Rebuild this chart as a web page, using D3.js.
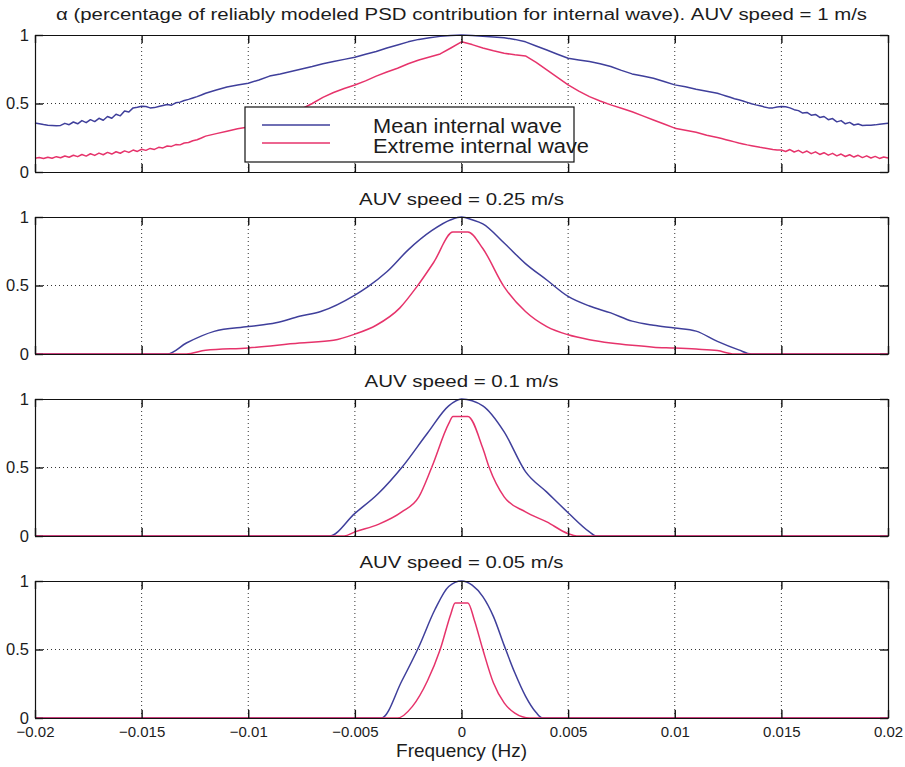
<!DOCTYPE html>
<html><head><meta charset="utf-8">
<script src="https://cdn.jsdelivr.net/npm/d3@7"></script>
<style>
body{margin:0;background:#fff}
svg{display:block}
text{font-family:"Liberation Sans",Arial,Helvetica,sans-serif;fill:#1c1c1c}
</style>
</head><body>
<svg id="chart" width="905" height="767"></svg>
<script>
// ---------- DATA ----------
const titles = [
  "\u03b1 (percentage of reliably modeled PSD contribution for internal wave). AUV speed = 1 m/s",
  "AUV speed = 0.25 m/s",
  "AUV speed = 0.1 m/s",
  "AUV speed = 0.05 m/s"
];
const seriesNames = ["Mean internal wave", "Extreme internal wave"];
const xTicks = [-0.02, -0.015, -0.01, -0.005, 0, 0.005, 0.01, 0.015, 0.02];
const xTickLabels = ["\u22120.02", "\u22120.015", "\u22120.01", "\u22120.005", "0", "0.005", "0.01", "0.015", "0.02"];
const yTicks = [0, 0.5, 1];
const yTickLabels = ["0", "0.5", "1"];
const xLabel = "Frequency (Hz)";

// AUV speed = 1 m/s
const freq1 = [
 -0.0200,-0.0198,-0.0196,-0.0194,-0.0192,-0.0190,-0.0188,-0.0186,-0.0184,-0.0182,
 -0.0180,-0.0178,-0.0176,-0.0174,-0.0172,-0.0170,-0.0168,-0.0166,-0.0164,-0.0162,
 -0.0160,-0.0158,-0.0156,-0.0154,-0.0152,-0.0150,-0.0148,-0.0146,-0.0144,-0.0142,
 -0.0140,-0.0138,-0.0136,-0.0134,-0.0132,-0.0130,-0.0128,-0.0126,-0.0124,-0.0122,-0.0120,
 -0.0115,-0.0110,-0.0105,-0.0100,-0.0095,-0.0090,-0.0085,-0.0080,-0.0075,-0.0070,
 -0.0065,-0.0060,-0.0055,-0.0050,-0.0045,-0.0040,-0.0035,-0.0030,-0.0025,-0.0020,
 -0.0015,-0.0010,-0.0005,0,0.0005,0.0010,0.0015,0.0020,0.0025,0.0030,
 0.0035,0.0040,0.0045,0.0050,0.0055,0.0060,0.0065,0.0070,0.0075,0.0080,
 0.0085,0.0090,0.0095,0.0100,0.0105,0.0110,0.0115,
 0.0120,0.0122,0.0124,0.0126,0.0128,0.0130,0.0132,0.0134,0.0136,0.0138,
 0.0140,0.0142,0.0144,0.0146,0.0148,0.0150,0.0152,0.0154,0.0156,0.0158,
 0.0160,0.0162,0.0164,0.0166,0.0168,0.0170,0.0172,0.0174,0.0176,0.0178,
 0.0180,0.0182,0.0184,0.0186,0.0188,0.0190,0.0192,0.0194,0.0196,0.0198,0.0200
];
const mean1 = [
 0.358,0.352,0.346,0.342,0.340,0.338,0.340,0.355,0.345,0.365,
 0.352,0.375,0.360,0.382,0.368,0.392,0.378,0.405,0.392,0.422,
 0.410,0.445,0.438,0.468,0.472,0.480,0.478,0.468,0.470,0.478,
 0.485,0.492,0.488,0.505,0.510,0.522,0.530,0.540,0.550,0.562,0.575,
 0.598,0.620,0.635,0.648,0.672,0.700,0.715,0.733,0.752,0.770,
 0.790,0.806,0.822,0.837,0.860,0.880,0.905,0.927,0.950,0.968,
 0.980,0.990,0.997,1.000,0.996,0.990,0.985,0.980,0.968,0.950,
 0.920,0.890,0.860,0.830,0.818,0.806,0.790,0.770,0.742,0.716,
 0.700,0.684,0.660,0.636,0.622,0.604,0.590,
 0.575,0.565,0.555,0.545,0.535,0.527,0.518,0.508,0.498,0.490,
 0.483,0.475,0.468,0.468,0.475,0.478,0.476,0.468,0.455,0.448,
 0.430,0.435,0.415,0.420,0.398,0.405,0.382,0.390,0.366,0.375,
 0.352,0.362,0.343,0.350,0.340,0.342,0.342,0.344,0.348,0.352,0.355
];
const extreme1 = [
 0.100,0.106,0.098,0.108,0.100,0.112,0.104,0.117,0.108,0.122,
 0.112,0.128,0.116,0.133,0.121,0.138,0.126,0.143,0.131,0.148,
 0.137,0.154,0.143,0.160,0.150,0.166,0.158,0.172,0.165,0.180,
 0.176,0.190,0.187,0.200,0.198,0.212,0.215,0.228,0.235,0.248,0.262,
 0.280,0.298,0.315,0.328,0.345,0.365,0.395,0.425,0.460,0.500,
 0.545,0.580,0.610,0.635,0.665,0.700,0.730,0.757,0.790,0.818,
 0.840,0.862,0.905,0.950,0.930,0.905,0.885,0.867,0.855,0.847,
 0.800,0.745,0.690,0.636,0.590,0.550,0.518,0.490,0.465,0.440,
 0.410,0.380,0.350,0.320,0.305,0.290,0.268,
 0.252,0.244,0.236,0.228,0.220,0.212,0.205,0.198,0.192,0.186,
 0.180,0.175,0.170,0.165,0.161,0.160,0.150,0.164,0.146,0.158,
 0.140,0.153,0.134,0.147,0.128,0.141,0.123,0.136,0.118,0.131,
 0.113,0.126,0.109,0.122,0.105,0.118,0.102,0.114,0.099,0.110,0.102
];

// AUV speed = 0.25 m/s
const freqMean025 = [-0.02,-0.0138,-0.0129,-0.0116,-0.010,-0.0087,-0.0076,-0.0066,-0.005,-0.0044,-0.0035,-0.0025,-0.0014,-0.0005,0,0.0005,0.001,0.002,0.003,0.004,0.005,0.006,0.007,0.008,0.009,0.010,0.011,0.012,0.013,0.0136,0.02];
const mean025 = [0,0,0.08,0.165,0.20,0.228,0.275,0.31,0.43,0.49,0.60,0.76,0.90,0.98,1.0,0.98,0.95,0.81,0.66,0.54,0.42,0.35,0.30,0.24,0.21,0.19,0.167,0.092,0.03,0,0];
const freqExt025 = [-0.02,-0.0129,-0.012,-0.010,-0.0076,-0.006,-0.005,-0.004,-0.0029,-0.0021,-0.0013,-0.0004,0.0003,0.001,0.002,0.003,0.004,0.005,0.006,0.007,0.008,0.009,0.010,0.011,0.012,0.0128,0.02];
const extreme025 = [0,0,0.027,0.044,0.08,0.10,0.145,0.21,0.335,0.49,0.67,0.89,0.89,0.77,0.49,0.31,0.20,0.14,0.104,0.08,0.063,0.05,0.044,0.036,0.025,0,0];

// AUV speed = 0.1 m/s
const freqMean01 = [-0.02,-0.0062,-0.005,-0.0039,-0.0028,-0.0016,-0.0006,0,0.001,0.002,0.003,0.004,0.005,0.006,0.0063,0.02];
const mean01 = [0,0,0.165,0.31,0.50,0.75,0.95,1.0,0.95,0.76,0.47,0.32,0.17,0.03,0,0];
const freqExt01 = [-0.02,-0.0055,-0.005,-0.0039,-0.0028,-0.002,-0.0014,-0.0006,-0.0004,0.0003,0.001,0.0013,0.002,0.003,0.004,0.005,0.0054,0.02];
const extreme01 = [0,0,0.03,0.085,0.176,0.286,0.50,0.82,0.873,0.873,0.64,0.50,0.286,0.176,0.103,0.017,0,0];

// AUV speed = 0.05 m/s
const freqMean005 = [-0.02,-0.00375,-0.0028,-0.002,-0.00125,-0.0006,0,0.0005,0.001,0.0015,0.002,0.0025,0.003,0.0035,0.0038,0.02];
const mean005 = [0,0,0.27,0.52,0.79,0.96,1.0,0.97,0.886,0.74,0.53,0.33,0.16,0.04,0,0];
const freqExt005 = [-0.02,-0.003,-0.0023,-0.0016,-0.001,-0.0005,-0.0003,0.0003,0.0006,0.001,0.0015,0.002,0.0025,0.0032,0.02];
const extreme005 = [0,0,0.085,0.27,0.50,0.76,0.84,0.84,0.716,0.50,0.255,0.11,0.036,0,0];

// ---------- LAYOUT ----------
const W = 905, H = 767;
const plotLeft = 35, plotRight = 888, panelH = 137;
const panelTops = [35, 217, 399, 581];
const titleBaselines = [20, 205, 387, 568];
const titleWidths = [811, 205, 194, 204];
const colors = ["#3f3f9b", "#e6336b"];

const panels = [
  {mean: [freq1, mean1], ext: [freq1, extreme1], curve: d3.curveLinear},
  {mean: [freqMean025, mean025], ext: [freqExt025, extreme025], curve: d3.curveMonotoneX},
  {mean: [freqMean01, mean01], ext: [freqExt01, extreme01], curve: d3.curveMonotoneX},
  {mean: [freqMean005, mean005], ext: [freqExt005, extreme005], curve: d3.curveMonotoneX}
];

const svg = d3.select("#chart");
svg.append("rect").attr("width", W).attr("height", H).attr("fill", "#fff");

const x = d3.scaleLinear().domain([-0.02, 0.02]).range([plotLeft, plotRight]);
const cx = x(0);

panels.forEach((p, i) => {
  const top = panelTops[i], bottom = top + panelH;
  const y = d3.scaleLinear().domain([0, 1]).range([bottom, top]);
  const g = svg.append("g");

  // grid
  g.selectAll("line.vg").data(xTicks.slice(1, -1)).join("line")
    .attr("x1", d => x(d)).attr("x2", d => x(d))
    .attr("y1", top).attr("y2", bottom)
    .attr("stroke", "#333").attr("stroke-width", 1).attr("stroke-dasharray", "1,3");
  g.selectAll("line.hg").data(yTicks.slice(1, -1)).join("line")
    .attr("x1", plotLeft).attr("x2", plotRight)
    .attr("y1", d => y(d)).attr("y2", d => y(d))
    .attr("stroke", "#333").attr("stroke-width", 1).attr("stroke-dasharray", "1,3");

  // series
  const line = d3.line().x(d => x(d[0])).y(d => y(d[1])).curve(p.curve);
  [p.mean, p.ext].forEach((s, k) => {
    const pts = s[0].map((f, j) => [f, s[1][j]]);
    g.append("path").datum(pts).attr("d", line)
      .attr("fill", "none").attr("stroke", colors[k]).attr("stroke-width", 1.5)
      .attr("stroke-linejoin", "round");
  });

  // axes
  const styleAxis = (sel, fs) => {
    sel.select(".domain").attr("stroke", "#111").attr("stroke-width", 1.2);
    sel.selectAll(".tick line").attr("stroke", "#111").attr("stroke-width", 1.4);
    sel.selectAll("text").attr("font-family", "Liberation Sans, Arial, sans-serif")
      .attr("font-size", fs).attr("fill", "#1c1c1c");
    sel.attr("font-family", null).attr("font-size", null);
  };
  g.append("g").attr("transform", `translate(0,${bottom})`)
    .call(d3.axisBottom(x).tickValues(xTicks).tickSizeInner(-8).tickSizeOuter(0).tickPadding(8)
      .tickFormat((d, j) => i === 3 ? xTickLabels[j] : ""))
    .call(styleAxis, 15);
  g.append("g").attr("transform", `translate(0,${top})`)
    .call(d3.axisTop(x).tickValues(xTicks).tickSizeInner(-8).tickSizeOuter(0).tickFormat(""))
    .call(styleAxis, 15);
  g.append("g").attr("transform", `translate(${plotLeft},0)`)
    .call(d3.axisLeft(y).tickValues(yTicks).tickSizeInner(-8).tickSizeOuter(0).tickPadding(6)
      .tickFormat((d, j) => yTickLabels[j]))
    .call(styleAxis, 16.5);
  g.append("g").attr("transform", `translate(${plotRight},0)`)
    .call(d3.axisRight(y).tickValues(yTicks).tickSizeInner(-8).tickSizeOuter(0).tickFormat(""))
    .call(styleAxis, 15);

  // title
  svg.append("text")
    .attr("x", cx - titleWidths[i] / 2).attr("y", titleBaselines[i])
    .attr("font-size", 16)
    .attr("textLength", titleWidths[i]).attr("lengthAdjust", "spacingAndGlyphs")
    .text(titles[i]);

  // legend (first panel)
  if (i === 0) {
    const lg = svg.append("g");
    lg.append("rect").attr("x", 245).attr("y", 107).attr("width", 329).attr("height", 55)
      .attr("fill", "#fff").attr("stroke", "#111").attr("stroke-width", 1.2);
    const legendWidths = [189, 216];
    seriesNames.forEach((name, k) => {
      const ly = [125, 143][k];
      lg.append("line").attr("x1", 262).attr("x2", 330).attr("y1", ly).attr("y2", ly)
        .attr("stroke", colors[k]).attr("stroke-width", 1.5);
      lg.append("text").attr("x", 373).attr("y", [132.5, 152.5][k])
        .attr("font-size", 20)
        .attr("textLength", legendWidths[k]).attr("lengthAdjust", "spacingAndGlyphs")
        .text(name);
    });
  }
});

// x label
svg.append("text").attr("x", cx).attr("y", 757).attr("text-anchor", "middle")
  .attr("font-size", 19).text(xLabel);
</script>
</body></html>
